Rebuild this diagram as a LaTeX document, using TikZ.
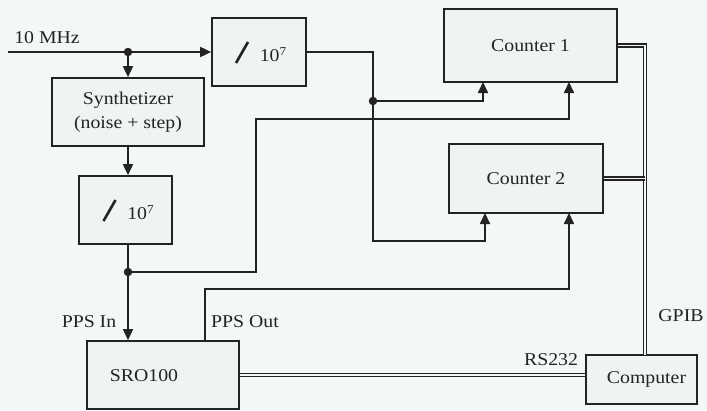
\documentclass[tikz,border=0pt]{standalone}
\usepackage{fontspec}
\setmainfont{Liberation Serif}[FakeStretch=1.1]
\usetikzlibrary{arrows.meta,calc}
\definecolor{bg}{RGB}{244,247,247}
\definecolor{boxfill}{RGB}{238,243,243}
\definecolor{ink}{RGB}{35,35,35}
\begin{document}
\begin{tikzpicture}[x=1pt,y=-1pt,
  every node/.style={font=\fontsize{18}{24}\selectfont, text=ink},
  blk/.style={draw=ink, fill=boxfill, line width=1.7pt, rectangle, inner sep=0pt},
  wire/.style={draw=ink, line width=1.7pt},
  arr/.style={wire, -{Triangle[length=11pt,width=10pt]}},
  bus/.style={draw=ink, double=bg, double distance=1.6pt, line width=1.4pt},
  dot/.style={circle, fill=ink, inner sep=0pt, minimum size=8.5pt}]
\fill[bg] (0,0) rectangle (707,410);
\useasboundingbox (0,0) rectangle (707,410);

% blocks
\node[blk, minimum width=94pt, minimum height=68pt] (d1) at (259,52) {};
\node[blk, minimum width=152pt, minimum height=68pt, align=center] (syn) at (128,112) {Synthetizer\\(noise + step)};
\node[blk, minimum width=93pt, minimum height=68pt] (d2) at (125.5,210) {};
\node[blk, minimum width=173pt, minimum height=73pt] (c1) at (530.5,45.5) {Counter 1};
\node[blk, minimum width=154pt, minimum height=69pt] (c2) at (526,178.5) {Counter 2};
\node[blk, minimum width=152pt, minimum height=68pt] (sro) at (163,375) {};
\node (srot) at (144,376) {SRO100};
\node[blk, minimum width=111pt, minimum height=49pt] (comp) at (641.5,379.5) {\hspace{10pt}Computer};

% divider contents
\draw[wire, line width=2.6pt] ($(d1.center)+(-23,11)$) -- ($(d1.center)+(-11,-10)$);
\node (d1t) at ($(d1.center)+(14,3)$) {10\raisebox{6pt}{\fontsize{12}{14}\selectfont 7}};
\draw[wire, line width=2.6pt] ($(d2.center)+(-22,11)$) -- ($(d2.center)+(-10,-10)$);
\node (d2t) at ($(d2.center)+(15,3)$) {10\raisebox{6pt}{\fontsize{12}{14}\selectfont 7}};

% coordinates
\coordinate (in) at (8,52);
\coordinate (j1) at (128,52);
\coordinate (j2) at (373,101);
\coordinate (j3) at (128,272);
\coordinate (k1) at (373,241);
\coordinate (k2) at (256,119);
\coordinate (k3) at (205,289);
\coordinate (ppso) at (205,341);
\coordinate (c1a) at (483,82);
\coordinate (c1b) at (569,82);
\coordinate (c2a) at (485,213);
\coordinate (c2b) at (569,213);
\coordinate (g) at (645,355);

% connectors
\draw[arr] (in) -- (d1.west);
\draw[arr] (j1) -- (syn.north);
\draw[arr] (syn.south) -- (syn.south |- d2.north);
\draw[arr] (d1.east) -| (k1) -| (c2a);
\draw[arr] (j2) -| (c1a);
\draw[arr] (d2.south -| j1) -- (sro.north -| j1);
\draw[arr] (j3) -| (k2) -| (c1b);
\draw[arr] (ppso) -- (k3) -| (c2b);
\draw[bus] (sro.east) -- (sro.east -| comp.west);
\draw[bus] (c1.east) -| (g);
\draw[bus] (c2.east) -- (c2.east -| g);

\node[dot] (dj1) at (j1) {};
\node[dot] (dj2) at (j2) {};
\node[dot] (dj3) at (j3) {};

% labels
\node (l10) at (47,38) {10 MHz};
\node (lppsi) at (89,322) {PPS In};
\node (lppso) at (245,322) {PPS Out};
\node (lgpib) at (681,316) {GPIB};
\node (lrs) at (551,360) {RS232};
\end{tikzpicture}
\end{document}
